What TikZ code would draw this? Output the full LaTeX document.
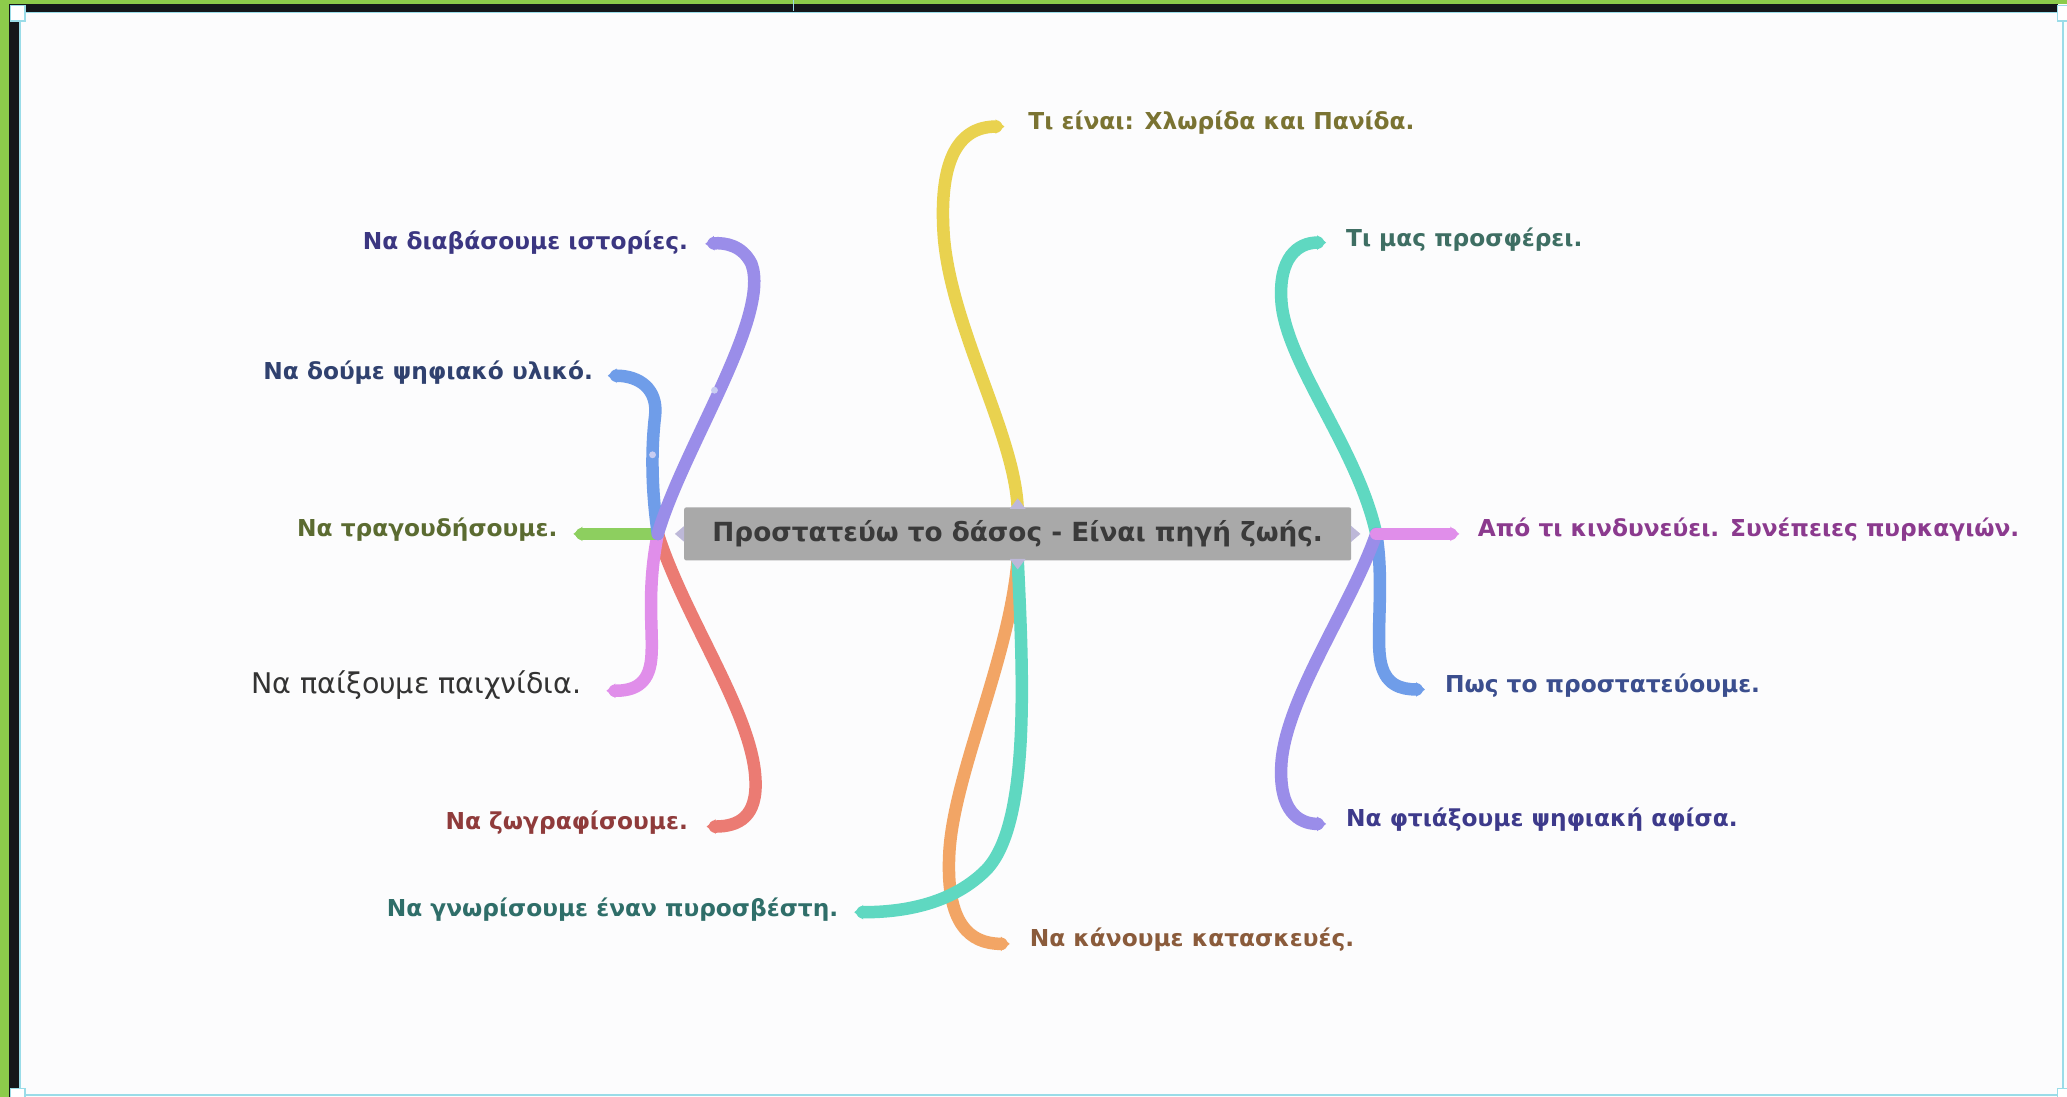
\documentclass[tikz,border=0pt]{standalone}
\usepackage{fontspec}
\setmainfont{DejaVu Sans}
\usetikzlibrary{arrows.meta}
\definecolor{frameG}{HTML}{8DCB4B}
\definecolor{frameK}{HTML}{15171B}
\definecolor{frameC}{HTML}{9ADCE8}
\definecolor{bgc}{HTML}{FCFCFD}
\definecolor{boxc}{HTML}{A9A9A9}
\definecolor{boxt}{HTML}{3A3A3A}
\definecolor{markc}{HTML}{BDB8D8}
\definecolor{cYel}{HTML}{E9D24F}
\definecolor{cTeal}{HTML}{5FD8C1}
\definecolor{cPur}{HTML}{9A8DE9}
\definecolor{cBlue}{HTML}{6F9DE9}
\definecolor{cGrn}{HTML}{8DCF5F}
\definecolor{cPink}{HTML}{E08EEA}
\definecolor{cRed}{HTML}{EB7B73}
\definecolor{cOrg}{HTML}{F2A565}
\definecolor{tYel}{HTML}{7A7332}
\definecolor{tTeal}{HTML}{3E6E63}
\definecolor{tPinkR}{HTML}{8B3A8E}
\definecolor{tBlueR}{HTML}{3B4E8E}
\definecolor{tPurR}{HTML}{3D3A8B}
\definecolor{tOrg}{HTML}{8A5B3B}
\definecolor{tTealB}{HTML}{2F6E69}
\definecolor{tRed}{HTML}{8F3B3B}
\definecolor{tGray}{HTML}{333333}
\definecolor{tGrn}{HTML}{5B6B31}
\definecolor{tBlueL}{HTML}{30416F}
\definecolor{tPurL}{HTML}{3B3681}
\definecolor{dotc}{HTML}{C9CDF2}
\begin{document}
\begin{tikzpicture}[x=1.3183pt,y=-1.3183pt,
  br/.style={line width=12.5pt, line cap=round, -{Triangle[length=9pt,width=14pt]}},
  lbl/.style={font=\bfseries\fontsize{23.3}{27}\selectfont, inner sep=0pt},
  lblr/.style={font=\fontsize{28.5}{32}\selectfont, inner sep=0pt},
  handle/.style={fill=white, draw=frameC, line width=1.2pt},
  markt/.style={fill=markc, draw=none}]
\useasboundingbox (0,0) rectangle (1568,832);
% frame
\fill[bgc] (0,0) rectangle (1568,832);
\fill[frameG] (0,0) rectangle (7,832);
\fill[frameG] (0,0) rectangle (1568,3);
\fill[frameK] (7,3) rectangle (14.5,832);
\fill[frameK] (7,3) rectangle (1561,9);
\draw[frameC, line width=1.5pt] (15,9.5) -- (1565,9.5) -- (1565,830.5) -- (15,830.5) -- cycle;
\draw[frameC, line width=1.5pt] (602,0) -- (602,8);
\draw[handle] (8,4) rectangle (19,16);
\draw[handle] (1561,4) rectangle (1572,16);
\draw[handle] (8,826) rectangle (19,836);
\draw[handle] (1561,826) rectangle (1572,836);

% hubs and tips
\coordinate (hL) at (499,405);
\coordinate (hR) at (1044,405);
\coordinate (hT) at (772,386);
\coordinate (hB) at (772,424);
\coordinate (tYel) at (762,96);
\coordinate (tTealT) at (1006,184);
\coordinate (tPinkR) at (1107,405);
\coordinate (tBlueR) at (1081,523);
\coordinate (tPurR) at (1006,625);
\coordinate (tOrg) at (766,716);
\coordinate (tTealB) at (648,692);
\coordinate (tRed) at (536,627);
\coordinate (tPinkL) at (460,524);
\coordinate (tGrn) at (435,405);
\coordinate (tBlueL) at (461,285);
\coordinate (tPurL) at (535,185);

% labels
\node[lbl, text=tYel, anchor=mid west] (nYel) at (780,96) {Τι είναι: Χλωρίδα και Πανίδα.};
\node[lbl, text=tTeal, anchor=mid west] (nTealT) at (1021,185) {Τι μας προσφέρει.};
\node[lbl, text=tPinkR, anchor=mid west] (nPinkR) at (1121,405) {Από τι κινδυνεύει. Συνέπειες πυρκαγιών.};
\node[lbl, text=tBlueR, anchor=mid west] (nBlueR) at (1096,523) {Πως το προστατεύουμε.};
\node[lbl, text=tPurR, anchor=mid west] (nPurR) at (1021,625) {Να φτιάξουμε ψηφιακή αφίσα.};
\node[lbl, text=tOrg, anchor=mid west] (nOrg) at (781,716) {Να κάνουμε κατασκευές.};
\node[lbl, text=tTealB, anchor=mid east] (nTealB) at (636,693) {Να γνωρίσουμε έναν πυροσβέστη.};
\node[lbl, text=tRed, anchor=mid east] (nRed) at (522,627) {Να ζωγραφίσουμε.};
\node[lblr, text=tGray, anchor=mid east] (nPinkL) at (441,524) {Να παίξουμε παιχνίδια.};
\node[lbl, text=tGrn, anchor=mid east] (nGrn) at (423,405) {Να τραγουδήσουμε.};
\node[lbl, text=tBlueL, anchor=mid east] (nBlueL) at (450,286) {Να δούμε ψηφιακό υλικό.};
\node[lbl, text=tPurL, anchor=mid east] (nPurL) at (522,187) {Να διαβάσουμε ιστορίες.};

% branches right / top / bottom
\draw[br, cYel] (hT) .. controls (770,330) and (722,250) .. (716,180) .. controls (712,125) and (725,96) .. (tYel);
\draw[br, cTeal] (hR) .. controls (1030,340) and (975,275) .. (972,228) .. controls (970,196) and (984,184) .. (tTealT);
\draw[br, cBlue] (hR) .. controls (1050,440) and (1044,480) .. (1047,500) .. controls (1050,520) and (1063,523) .. (tBlueR);
\draw[br, cPur] (hR) .. controls (1025,460) and (975,530) .. (972,580) .. controls (970,615) and (985,625) .. (tPurR);
\draw[br, cPink] (hR) -- (tPinkR);
\draw[br, cOrg] (hB) .. controls (766,500) and (722,590) .. (720,650) .. controls (718,700) and (735,716) .. (tOrg);
\draw[br, cTeal] (hB) .. controls (776,510) and (782,625) .. (748,660) .. controls (720,688) and (680,692) .. (tTealB);
% branches left
\draw[br, cRed] (hL) .. controls (520,470) and (570,540) .. (573,590) .. controls (575,620) and (560,627) .. (tRed);
\draw[br, cPink] (hL) .. controls (490,450) and (496,480) .. (494,500) .. controls (492,520) and (480,524) .. (tPinkL);
\draw[br, cGrn] (hL) -- (tGrn);
\draw[br, cBlue] (hL) .. controls (494,370) and (494,340) .. (497,315) .. controls (499,295) and (485,285) .. (tBlueL);
\draw[br, cPur] (hL) .. controls (518,340) and (585,240) .. (570,200) .. controls (563,186) and (550,184) .. (tPurL);
\fill[dotc] (542,296) circle (2.6);
\fill[dotc] (495,345) circle (2.6);

% central node
\node[fill=boxc, rounded corners=2pt, minimum width=667pt, minimum height=53pt, inner sep=0pt,
      text=boxt, font=\bfseries\fontsize{26.3}{30}\selectfont] (root) at (772,405) {Προστατεύω το δάσος - Είναι πηγή ζωής.};
\fill[markt] (766,386) -- (772,378) -- (778,386) -- cycle;
\fill[markt] (766,424) -- (772,432) -- (778,424) -- cycle;
\fill[markt] (519,399) -- (512,405) -- (519,411) -- cycle;
\fill[markt] (1025,399) -- (1032,405) -- (1025,411) -- cycle;
\end{tikzpicture}
\end{document}
